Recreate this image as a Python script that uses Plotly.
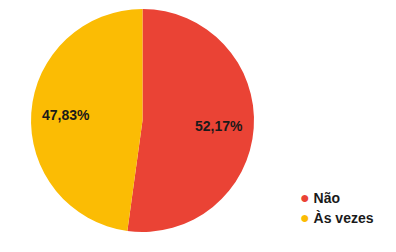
import math
import plotly.graph_objects as go

labels = ["Não", "Às vezes"]
values = [52.17, 47.83]
colors = ["#EA4335", "#FBBC04"]
text_labels = ["52,17%", "47,83%"]

W, H = 396, 252
cx, cy, R = 142.5, 120.5, 111.5

fig = go.Figure()
fig.add_trace(go.Pie(
    labels=labels, values=values, sort=False, direction="clockwise", rotation=0,
    marker=dict(colors=colors, line=dict(width=0)),
    textinfo="none",
    domain=dict(x=[(cx - R)/W, (cx + R)/W], y=[1 - (cy + R)/H, 1 - (cy - R)/H]),
    showlegend=False, hoverinfo="label+percent",
))

# slice labels placed at 0.68 of the radius along each slice's mid angle
total = sum(values)
cum = 0.0
for v, t in zip(values, text_labels):
    mid = (cum + v / 2) / total * 2 * math.pi
    cum += v
    px = cx + 0.69 * R * math.sin(mid)
    py = cy - 0.69 * R * math.cos(mid)
    fig.add_annotation(x=px / W, y=1 - py / H, xref="paper", yref="paper",
                       xanchor="center", yanchor="middle", showarrow=False,
                       text=f"<b>{t}</b>",
                       font=dict(family="Liberation Sans", size=14, color="#1a1a1a"))

legend_y = [197, 217]
for lab, col, yy in zip(labels, colors, legend_y):
    fig.add_annotation(x=298/W, y=1 - yy/H, xref="paper", yref="paper",
                       xanchor="left", yanchor="middle", showarrow=False,
                       text=f"<span style='color:{col};font-size:16px'>●</span> <b>{lab}</b>",
                       font=dict(family="Liberation Sans", size=14, color="#1a1a1a"))

fig.update_layout(width=W, height=H, margin=dict(l=0, r=0, t=0, b=0),
                  paper_bgcolor="white", plot_bgcolor="white")
fig.write_html("out.html")
